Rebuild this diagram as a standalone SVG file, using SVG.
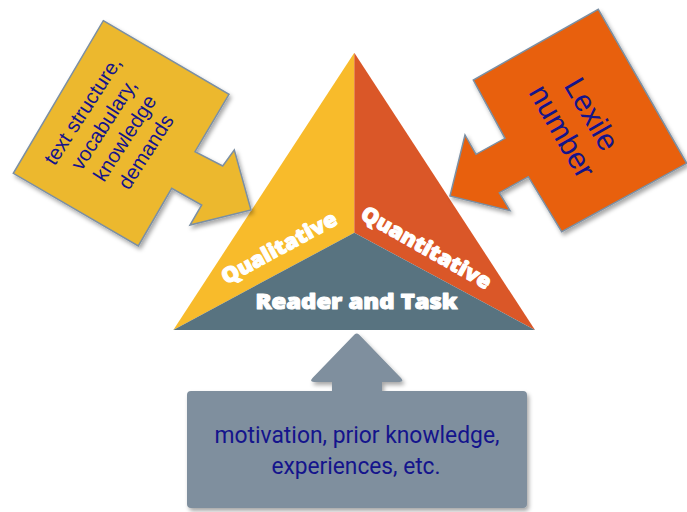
<svg xmlns="http://www.w3.org/2000/svg" width="687" height="512" viewBox="0 0 687 512">
<defs>
<filter id="sh" x="-20%" y="-20%" width="140%" height="140%">
<feDropShadow dx="2" dy="3" stdDeviation="2" flood-color="#000" flood-opacity="0.35"/>
</filter>
<style>
.tri{font-family:"Open Sans","Lato",sans-serif;font-weight:800;fill:#fff;stroke:#fff;stroke-width:1.1;stroke-linejoin:round;font-size:21px;text-anchor:middle}
.ct{font-family:"Liberation Sans",Arial,sans-serif;fill:#14148c;text-anchor:middle}
.bt{font-family:Roboto,"Liberation Sans",sans-serif;fill:#14148c;text-anchor:middle;font-size:24px}
.co{stroke:#7b8fa3;stroke-width:1.5;stroke-linejoin:miter;filter:url(#sh)}
</style>
</defs>
<rect width="687" height="512" fill="#fff"/>
<g id="triangle">
<polygon points="354.3,52.7 354.3,232.7 173.3,330" fill="#f8bb2b"/>
<polygon points="354.3,52.7 535,330 354.3,232.7" fill="#da5728"/>
<polygon points="173.3,330 354.3,232.7 535,330" fill="#587380"/>
<text class="tri" transform="translate(279,247.5) rotate(-28.5)" y="7.5" textLength="128" lengthAdjust="spacingAndGlyphs">Qualitative</text>
<text class="tri" transform="translate(426.5,247.5) rotate(29.5)" y="7.5" textLength="146" lengthAdjust="spacingAndGlyphs">Quantitative</text>
<text class="tri" x="356.5" y="308.5" font-size="20" textLength="202" lengthAdjust="spacingAndGlyphs">Reader and Task</text>
</g>
<g id="qualitative-callout">
<polygon class="co" fill="#ecb82f" points="103.3,20.7 229,94.3 195,151.7 222.7,166 234.3,150 251,210 190,225 201.7,205 171.7,188.3 138.3,246 13.3,173.3"/>
<g class="ct" font-size="20.5" transform="translate(120,135) rotate(-57)">
<text x="0" y="-37.6">text structure,</text>
<text x="0" y="-12.5">vocabulary,</text>
<text x="0" y="12.6">knowledge</text>
<text x="0" y="37.7">demands</text>
</g>
</g>
<g id="quantitative-callout">
<polygon class="co" fill="#e8600a" points="598.3,9.3 686.7,163.3 561.7,231.7 528.3,176.7 499.3,192.7 510,210.7 450,196 465,135 476,154.3 505,138.3 473.3,80"/>
<g class="ct" font-size="30" transform="translate(580,121) rotate(60)">
<text x="0" y="-3.4">Lexile</text>
<text x="0" y="30.8">number</text>
</g>
</g>
<g id="reader-callout">
<path filter="url(#sh)" fill="#7f8f9e" d="M191 391 L332 391 L332 382 L314 382 Q309 382 312.5 378 L354.5 334.5 Q356.7 332.5 359 334.5 L401 378 Q404.5 382 399.5 382 L382 382 L382 391 L523 391 Q527 391 527 395 L527 504 Q527 508 523 508 L191 508 Q187 508 187 504 L187 395 Q187 391 191 391 Z"/>
<text class="bt" x="357" y="443" textLength="285" lengthAdjust="spacingAndGlyphs">motivation, prior knowledge,</text>
<text class="bt" x="356" y="473.5" textLength="169" lengthAdjust="spacingAndGlyphs">experiences, etc.</text>
</g>
</svg>
